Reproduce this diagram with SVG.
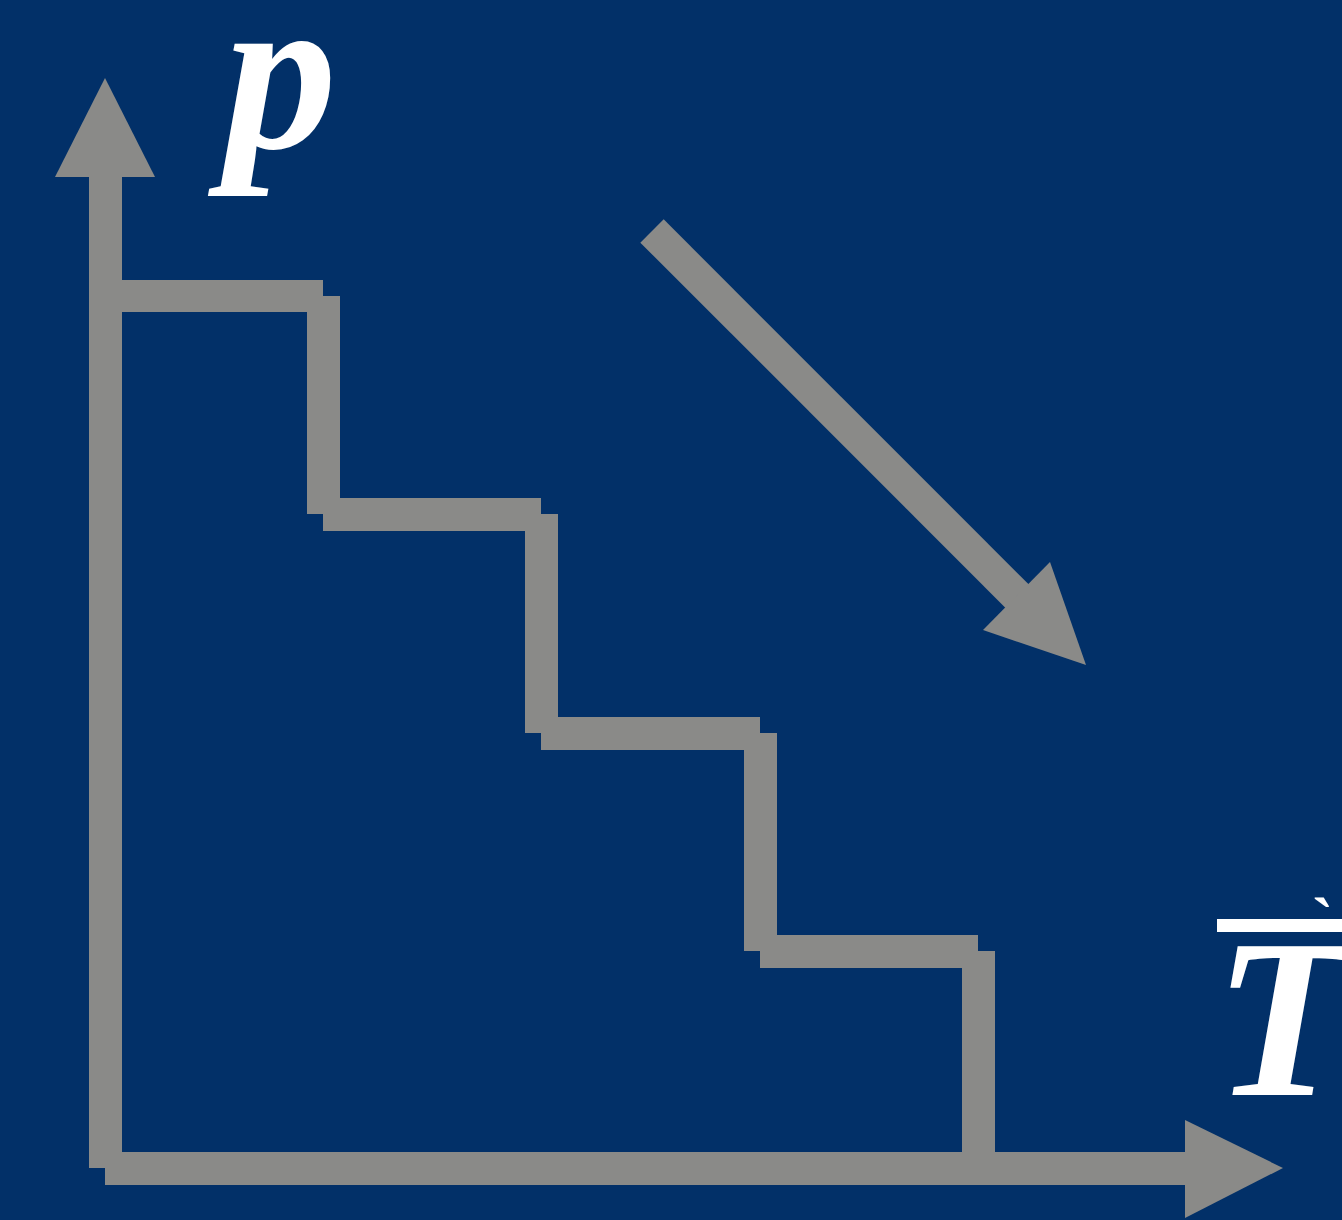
<svg xmlns="http://www.w3.org/2000/svg" width="1342" height="1220" viewBox="0 0 1342 1220">
<style>
.g{fill:#8a8a88}
.lbl{font-family:"Liberation Serif","Times New Roman",serif;font-weight:bold;font-style:italic;font-size:226px;fill:#ffffff}
.acc{font-family:"Liberation Serif","Times New Roman",serif;font-weight:bold;font-size:64px;fill:#ffffff}
</style>
<rect width="1342" height="1220" fill="#023068"/>
<g id="connectors">
<g id="y-axis" class="g">
<rect x="89" y="170" width="33" height="998"/>
<polygon points="105,78 155,177 55,177"/>
</g>
<g id="x-axis" class="g">
<rect x="105" y="1152" width="1082" height="33"/>
<polygon points="1185,1120 1283,1168 1185,1218"/>
</g>
<g id="trend-arrow">
<line x1="652" y1="231" x2="1022" y2="601" stroke="#8a8a88" stroke-width="33"/>
<polygon class="g" points="1086,665 1050,562 983,630"/>
</g>
</g>
<g id="staircase" class="g">
<rect x="105" y="280" width="218" height="32"/>
<rect x="307" y="296" width="33" height="218"/>
<rect x="323" y="498" width="218" height="33"/>
<rect x="525" y="514" width="33" height="219"/>
<rect x="541" y="717" width="219" height="33"/>
<rect x="744" y="733" width="33" height="218"/>
<rect x="760" y="935" width="218" height="33"/>
<rect x="962" y="951" width="33" height="217"/>
</g>
<g id="label-p">
<text class="lbl" x="224" y="148" font-size="232">p</text>
</g>
<g id="label-T">
<rect x="1217" y="919" width="130" height="13" fill="#ffffff"/>
<text class="lbl" x="1214" y="1095">T</text>
<text class="acc" x="1312" y="942">`</text>
</g>
</svg>
